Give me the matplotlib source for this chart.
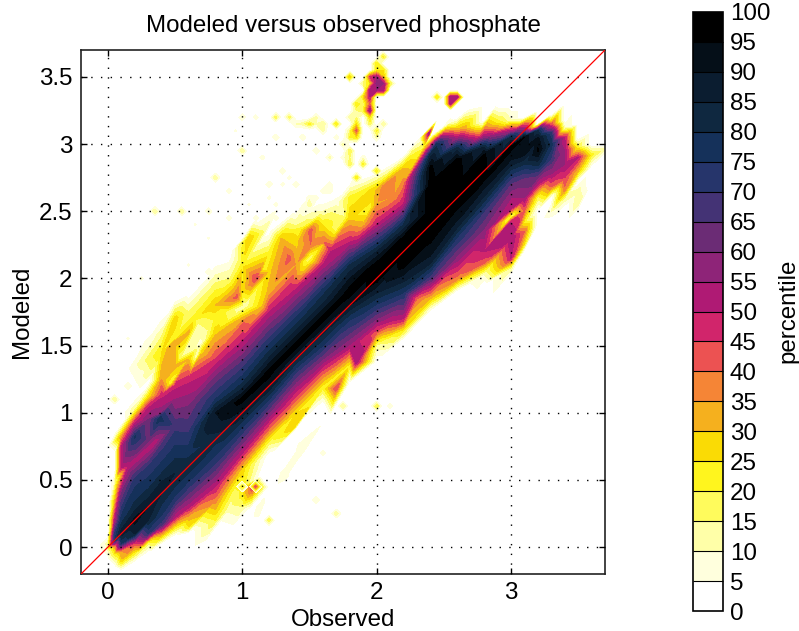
import numpy as np
import matplotlib
matplotlib.use('Agg')
import matplotlib.pyplot as plt
import matplotlib.tri as mtri
from matplotlib.colors import ListedColormap, BoundaryNorm
from matplotlib.cm import ScalarMappable

plt.rcParams['font.family'] = ['Liberation Sans', 'DejaVu Sans']

levels = list(range(0, 105, 5))
colors = ['#FFFFFF', '#FFFFDD', '#FFFFA8', '#FFFB5C', '#FFF51E', '#FADB05', '#F5B01E',
          '#F58536', '#EC5252', '#D1256B', '#AF1A74', '#8E2478', '#6B2C75', '#443375',
          '#26356B', '#15315A', '#0F2840', '#0B1D30', '#050F18', '#000000']

# Columns of the field: Observed value -> Modeled values and percentile
obs_m01 = -0.1; mod_m01 = [-0.4, 0.0, 0.5, 1.0, 2.0]; pct_m01 = [0, 0, 0, 0, 0]
obs_000 = 0.0;  mod_000 = [-0.4, -0.1, -0.02, 0.03, 0.1, 0.2, 0.3, 0.45, 0.6, 0.75, 0.9, 1.05, 1.3, 2.0]; pct_000 = [0, 0, 10, 12, 0, 0, 0, 0, 0, 0, 0, 0, 0, 0]
obs_005 = 0.05; mod_005 = [-0.4, -0.15, -0.05, 0.0, 0.05, 0.1, 0.2, 0.35, 0.48, 0.58, 0.7, 0.85, 1.0, 1.2, 2.0]; pct_005 = [0, 0, 22, 30, 75, 70, 50, 28, 10, 0, 0, 0, 0, 0, 0]
obs_010 = 0.1;  mod_010 = [-0.4, -0.18, -0.1, -0.03, 0.03, 0.1, 0.2, 0.4, 0.6, 0.75, 0.82, 0.92, 1.0, 1.3, 2.0]; pct_010 = [0, 0, 28, 35, 75, 88, 78, 60, 52, 50, 35, 0, 0, 0, 0]
obs_020 = 0.2;  mod_020 = [-0.4, -0.12, -0.05, 0.03, 0.1, 0.2, 0.3, 0.5, 0.7, 0.82, 0.93, 1.02, 1.12, 1.5, 2.2]; pct_020 = [0, 0, 20, 45, 85, 92, 82, 72, 62, 76, 48, 15, 0, 0, 0]
obs_030 = 0.3;  mod_030 = [-0.3, -0.05, 0.03, 0.1, 0.2, 0.3, 0.4, 0.6, 0.8, 0.95, 1.05, 1.12, 1.22, 1.6, 2.3]; pct_030 = [0, 0, 18, 70, 85, 90, 82, 70, 62, 60, 48, 25, 0, 0, 0]
obs_040 = 0.4;  mod_040 = [-0.2, 0.02, 0.1, 0.17, 0.25, 0.35, 0.45, 0.55, 0.75, 1.0, 1.13, 1.25, 1.45, 1.6, 1.75, 2.4]; pct_040 = [0, 0, 35, 68, 76, 82, 88, 80, 68, 58, 48, 35, 25, 12, 0, 0]
obs_050 = 0.5;  mod_050 = [-0.1, 0.08, 0.15, 0.22, 0.35, 0.45, 0.55, 0.7, 0.9, 1.1, 1.2, 1.35, 1.55, 1.7, 1.85, 2.5]; pct_050 = [0, 0, 25, 50, 72, 80, 85, 78, 68, 55, 48, 32, 22, 28, 0, 0]
obs_060 = 0.6;  mod_060 = [-0.05, 0.1, 0.15, 0.22, 0.3, 0.4, 0.5, 0.6, 0.7, 0.85, 1.05, 1.25, 1.4, 1.6, 1.75, 1.9, 2.6]; pct_060 = [0, 0, 25, 32, 52, 65, 76, 84, 78, 70, 60, 48, 30, 32, 15, 0, 0]
obs_080 = 0.8;  mod_080 = [0.0, 0.13, 0.2, 0.28, 0.35, 0.45, 0.6, 0.7, 0.8, 0.9, 1.0, 1.1, 1.25, 1.4, 1.6, 1.8, 2.0, 2.15, 2.8]; pct_080 = [0, 0, 20, 30, 38, 50, 68, 76, 82, 88, 90, 75, 62, 45, 28, 30, 12, 0, 0]
obs_100 = 1.0;  mod_100 = [0.1, 0.22, 0.3, 0.38, 0.45, 0.58, 0.7, 0.8, 0.9, 1.0, 1.1, 1.2, 1.35, 1.55, 1.7, 1.9, 2.1, 2.3, 3.0]; pct_100 = [0, 0, 15, 22, 22, 28, 50, 64, 76, 88, 97, 82, 68, 48, 32, 25, 22, 0, 0]
obs_120 = 1.2;  mod_120 = [0.4, 0.68, 0.78, 0.88, 1.0, 1.1, 1.2, 1.3, 1.4, 1.5, 1.75, 1.9, 2.05, 2.2, 2.36, 3.2]; pct_120 = [0, 0, 18, 40, 60, 75, 90, 98, 86, 76, 50, 32, 28, 20, 0, 0]
obs_140 = 1.4;  mod_140 = [0.6, 0.88, 1.0, 1.1, 1.2, 1.3, 1.4, 1.5, 1.6, 1.7, 1.92, 2.1, 2.25, 2.4, 2.52, 3.3]; pct_140 = [0, 0, 25, 42, 56, 70, 85, 98, 86, 76, 50, 34, 28, 14, 0, 0]
obs_160 = 1.6;  mod_160 = [0.8, 1.06, 1.18, 1.3, 1.4, 1.5, 1.6, 1.7, 1.8, 1.9, 2.1, 2.25, 2.4, 2.5, 2.6, 3.4]; pct_160 = [0, 0, 20, 42, 60, 75, 86, 98, 86, 78, 50, 28, 24, 10, 0, 0]
obs_180 = 1.8;  mod_180 = [1.0, 1.22, 1.35, 1.5, 1.6, 1.7, 1.8, 1.9, 2.0, 2.1, 2.27, 2.45, 2.6, 2.72, 3.5]; pct_180 = [0, 0, 22, 54, 66, 76, 90, 98, 90, 80, 50, 28, 22, 0, 0]
obs_200 = 2.0;  mod_200 = [1.2, 1.38, 1.5, 1.6, 1.7, 1.8, 1.9, 2.0, 2.1, 2.2, 2.4, 2.55, 2.68, 2.8, 3.6]; pct_200 = [0, 0, 14, 42, 60, 74, 86, 98, 98, 85, 50, 34, 26, 0, 0]
obs_220 = 2.2;  mod_220 = [1.4, 1.54, 1.62, 1.7, 1.8, 1.9, 2.0, 2.1, 2.2, 2.3, 2.4, 2.55, 2.7, 2.82, 2.92, 3.7]; pct_220 = [0, 0, 25, 50, 64, 76, 88, 97, 98, 97, 80, 50, 38, 30, 0, 0]
obs_240 = 2.4;  mod_240 = [1.55, 1.75, 1.85, 2.0, 2.13, 2.3, 2.5, 2.7, 2.83, 2.92, 2.98, 3.06, 3.7]; pct_240 = [0, 0, 30, 66, 88, 97, 98, 98, 96, 82, 50, 0, 0]
obs_260 = 2.6;  mod_260 = [1.7, 1.9, 2.0, 2.15, 2.3, 2.4, 2.55, 2.7, 2.88, 2.97, 3.05, 3.12, 3.2, 3.8]; pct_260 = [0, 0, 38, 58, 74, 88, 97, 98, 97, 82, 52, 28, 0, 0]
obs_280 = 2.8;  mod_280 = [1.8, 1.95, 2.03, 2.12, 2.2, 2.35, 2.5, 2.6, 2.75, 2.92, 2.98, 3.04, 3.1, 3.18, 3.3, 3.8]; pct_280 = [0, 0, 10, 42, 50, 58, 70, 84, 97, 96, 84, 60, 42, 0, 0, 0]
obs_300 = 3.0;  mod_300 = [1.9, 2.02, 2.08, 2.15, 2.3, 2.42, 2.46, 2.52, 2.6, 2.72, 2.82, 2.9, 2.98, 3.05, 3.1, 3.18, 3.3, 3.8]; pct_300 = [0, 0, 15, 50, 55, 50, 15, 50, 55, 66, 82, 92, 97, 80, 52, 10, 0, 0]
obs_310 = 3.1;  mod_310 = [2.0, 2.2, 2.26, 2.35, 2.42, 2.5, 2.6, 2.75, 2.85, 2.95, 3.05, 3.1, 3.15, 3.2, 3.4, 3.8]; pct_310 = [0, 0, 25, 40, 22, 40, 55, 65, 80, 95, 95, 60, 40, 0, 0, 0]
obs_320 = 3.2;  mod_320 = [2.2, 2.4, 2.5, 2.6, 2.7, 2.78, 2.85, 2.95, 3.04, 3.1, 3.15, 3.25, 3.5, 3.8]; pct_320 = [0, 0, 0, 18, 50, 66, 82, 96, 92, 80, 0, 0, 0, 0]
obs_330 = 3.3;  mod_330 = [2.3, 2.42, 2.5, 2.6, 2.68, 2.78, 2.88, 3.0, 3.08, 3.14, 3.22, 3.5, 3.8]; pct_330 = [0, 0, 10, 0, 40, 55, 68, 78, 72, 45, 0, 0, 0]
obs_340 = 3.4;  mod_340 = [2.4, 2.52, 2.6, 2.66, 2.75, 2.85, 2.95, 3.05, 3.12, 3.18, 3.3, 3.5, 3.8]; pct_340 = [0, 0, 15, 38, 45, 55, 55, 50, 10, 0, 0, 0, 0]
obs_350 = 3.5;  mod_350 = [2.4, 2.5, 2.56, 2.65, 2.72, 2.8, 2.9, 2.98, 3.05, 3.15, 3.3, 3.5, 3.8]; pct_350 = [0, 0, 15, 12, 0, 30, 50, 20, 0, 0, 0, 0, 0]
obs_360 = 3.6;  mod_360 = [2.5, 2.7, 2.82, 2.92, 3.0, 3.1, 3.25, 3.5, 3.8]; pct_360 = [0, 0, 0, 22, 0, 0, 0, 0, 0]
obs_380 = 3.8;  mod_380 = [2.6, 3.0, 3.4, 3.8]; pct_380 = [0, 0, 0, 0]

obs_cols = [obs_m01, obs_000, obs_005, obs_010, obs_020, obs_030, obs_040, obs_050, obs_060,
            obs_080, obs_100, obs_120, obs_140, obs_160, obs_180, obs_200, obs_220, obs_240,
            obs_260, obs_280, obs_300, obs_310, obs_320, obs_330, obs_340, obs_350, obs_360, obs_380]
mod_cols = [mod_m01, mod_000, mod_005, mod_010, mod_020, mod_030, mod_040, mod_050, mod_060,
            mod_080, mod_100, mod_120, mod_140, mod_160, mod_180, mod_200, mod_220, mod_240,
            mod_260, mod_280, mod_300, mod_310, mod_320, mod_330, mod_340, mod_350, mod_360, mod_380]
pct_cols = [pct_m01, pct_000, pct_005, pct_010, pct_020, pct_030, pct_040, pct_050, pct_060,
            pct_080, pct_100, pct_120, pct_140, pct_160, pct_180, pct_200, pct_220, pct_240,
            pct_260, pct_280, pct_300, pct_310, pct_320, pct_330, pct_340, pct_350, pct_360, pct_380]

# Mottled fringe of the band: extra readings between the columns
fringe_obs = [1.50, 1.35, 1.51, 1.61, 1.51, 1.66, 1.16, 1.10, 1.36, 1.01, 0.96, 0.79, 0.67, 0.70, 1.01, 1.15, 0.91,
              1.05, 1.16, 1.29, 1.43, 1.70, 1.76, 1.94, 1.71, 1.81, 2.08, 1.99, 2.13, 1.90,
              0.64, 0.87, 0.54, 0.655, 0.69, 0.49, 0.47, 0.38, 0.35, 0.15, 1.08, 0.94, 1.14, 1.26, 1.43, 1.39, 1.58,
              0.90, 1.14, 1.31, 1.7, 1.85, 2.1, 2.3,
              2.45, 2.39, 2.55, 2.65, 2.77, 2.85, 2.92, 2.35, 2.32]
fringe_mod = [2.15, 2.15, 2.36, 2.27, 2.25, 2.20, 2.07, 2.00, 1.96, 1.79, 1.86, 1.69, 1.67, 1.45, 1.67, 1.79, 2.00,
              2.30, 2.35, 2.30, 2.36, 2.36, 2.46, 2.51, 2.56, 2.70, 2.70, 2.65, 2.61, 2.40,
              1.70, 1.75, 1.41, 1.41, 1.51, 1.52, 1.22, 0.95, 0.78, 0.60, 0.44, 0.44, 0.53, 0.63, 0.70, 0.90, 0.90,
              0.29, 0.31, 0.52, 1.18, 1.38, 1.68, 1.85,
              3.00, 3.08, 3.16, 3.11, 3.07, 3.06, 3.17, 2.98, 3.04]
fringe_pct = [15, 42, 42, 40, 40, 50, 20, 45, 45, 10, 42, 20, 15, 28, 40, 30, 15,
              30, 15, 30, 22, 18, 15, 20, 8, 6, 40, 30, 35, 32,
              22, 20, 15, 10, 8, 35, 20, 78, 50, 50, 45, 20, 0, 0, 8, 30, 5,
              12, 8, 8, 45, 55, 50, 40,
              78, 55, 8, 35, 40, 55, 20, 18, 5]

# Places just outside the band and further out, where the field is white
zero_obs = [0.7, 0.9, 1.1, 1.3, 1.5, 1.7, 1.9, 2.1, 2.3,
            0.7, 0.9, 1.1, 1.3, 1.5, 1.7, 1.9, 2.1, 2.3, 2.5, 2.45, 2.55, 2.7, 2.9, 3.1,
            0.7, 0.9, 1.2, 1.3, 1.4, 1.55, 1.35, 1.5, 1.7, 1.65, 1.8, 1.9, 2.1, 2.3, 2.5, 2.7,
            0.9, 1.1, 1.3, 1.5, 1.7, 1.9, 2.1, 2.3, 2.5, 2.7, 2.9, 1.05, 1.2]
zero_mod = [2.0, 2.18, 2.45, 2.58, 2.66, 2.78, 2.92, 3.0, 3.12,
            2.4, 2.6, 2.8, 3.0, 3.1, 3.2, 3.3, 3.4, 3.5, 3.6, 3.18, 3.24, 3.28, 3.3, 3.3,
            0.0, 0.1, 0.45, 0.45, 0.55, 0.6, 0.72, 0.72, 0.85, 0.97, 1.02, 1.12, 1.28, 1.42, 1.62, 1.82,
            -0.1, 0.1, 0.2, 0.4, 0.6, 0.8, 1.0, 1.2, 1.4, 1.6, 1.8, 0.27, 0.35]

# Isolated specks and blobs away from the main band
speck_obs = [0.37, 0.57, 0.75, 0.90, 0.67, 1.24, 0.44, 0.60, 0.73, 0.245, 1.0, 1.0, 1.1, 0.94, 1.09,
             1.15, 1.30, 1.19, 1.40, 1.48, 1.56, 1.66, 1.79, 1.87, 1.99, 1.82, 1.25, 1.43, 1.34, 1.26,
             1.50, 1.68, 1.86, 2.0, 1.93, 2.0, 2.05, 1.79, 2.46, 2.54, 2.58, 2.54, 2.01, 1.77, 0.05,
             0.16, 0.26, 0.16, 0.34, 1.08, 0.99, 1.19, 1.55, 1.71, 1.61, 0.80, 0.90, 0.67,
             1.95, 2.05, 1.95, 2.0, 2.0, 1.9, 1.93, 1.85, 1.9, 1.85, 1.8, 2.05, 2.0, 1.55, 1.45,
             1.6, 1.85, 1.8, 1.82, 1.88, 1.93, 2.02, 1.95, 2.03, 2.0,
             1.40, 1.45, 1.60, 1.55, 1.75, 1.70, 1.65, 1.50, 1.55, 1.60, 1.65, 1.30, 1.35, 1.20, 1.25,
             2.05, 1.95, 2.05, 2.10, 1.90, 1.90, 1.95, 1.85, 1.85, 1.80, 2.05, 1.75, 1.80, 1.90, 2.10, 1.10, 1.05, 0.75]
speck_mod = [2.5, 2.5, 2.5, 2.45, 2.40, 2.46, 2.2, 2.10, 2.05, 2.0, 2.96, 3.2, 3.2, 3.11, 3.07,
             2.91, 2.80, 2.70, 2.69, 2.56, 2.93, 2.88, 2.71, 2.76, 2.79, 2.93, 3.06, 3.06, 3.18, 3.18,
             3.16, 3.14, 3.11, 3.12, 3.26, 3.46, 3.63, 3.50, 3.36, 3.36, 3.36, 3.30, 1.04, 1.06, 1.10,
             1.2, 1.29, 1.55, 1.8, 0.44, 0.44, 0.21, 0.36, 0.24, 0.68, 2.75, 2.67, 2.62,
             3.45, 3.45, 3.5, 3.5, 3.4, 3.35, 3.35, 3.3, 3.3, 3.15, 3.1, 3.55, 3.55, 3.2, 3.15,
             3.1, 3.05, 3.05, 2.85, 2.85, 3.2, 3.6, 3.15, 3.15, 3.05,
             3.15, 3.15, 3.15, 3.15, 3.00, 3.05, 2.70, 2.60, 2.60, 2.65, 2.65, 2.70, 2.75, 2.60, 2.55,
             3.40, 3.40, 3.50, 3.45, 3.45, 3.25, 3.30, 3.20, 3.25, 3.20, 3.65, 2.90, 2.90, 2.90, 1.05, 2.45, 2.55, 2.3]
speck_pct = [15, 15, 10, 8, 6, 8, 5, 6, 10, 7, 15, 10, 8, 6, 5,
             8, 10, 10, 10, 15, 10, 12, 5, 25, 25, 20, 10, 10, 18, 18,
             22, 25, 42, 22, 55, 58, 22, 30, 25, 55, 55, 55, 20, 15, 15,
             10, 8, 6, 5, 45, 25, 20, 10, 15, 8, 15, 8, 5,
             25, 55, 45, 55, 55, 25, 50, 25, 15, 25, 15, 25, 22, 12, 10,
             12, 25, 20, 20, 22, 25, 25, 18, 15, 12,
             10, 12, 15, 10, 12, 8, 8, 8, 8, 8, 8, 7, 7, 7, 7,
             55, 55, 30, 20, 15, 20, 40, 15, 15, 12, 15, 8, 15, 8, 8, 8, 6, 6]

x_ticks = [0, 1, 2, 3]
y_ticks = [0, 0.5, 1, 1.5, 2, 2.5, 3, 3.5]
y_labels = ['0', '0.5', '1', '1.5', '2', '2.5', '3', '3.5']
lim = [-0.2, 3.7]

W, H = 799, 631
fig = plt.figure(figsize=(W / 100, H / 100), dpi=100)
ax = fig.add_axes([81 / W, 1 - 574 / H, 524 / W, 524 / H])

cmap = ListedColormap(colors)
norm = BoundaryNorm(levels, cmap.N)

x = np.concatenate([np.full(len(m), o, dtype=float) for o, m in zip(obs_cols, mod_cols)]
                   + [np.array(fringe_obs), np.array(zero_obs)])
y = np.concatenate([np.asarray(m, dtype=float) for m in mod_cols]
                   + [np.array(fringe_mod), np.array(zero_mod)])
z = np.concatenate([np.asarray(p, dtype=float) for p in pct_cols]
                   + [np.array(fringe_pct, dtype=float), np.zeros(len(zero_obs))])
# triangles built along the diagonal band so the ridge stays connected
tri_sheared = mtri.Triangulation(x, y - x)
tri = mtri.Triangulation(x, y, tri_sheared.triangles)
ax.tricontourf(tri, z, levels=levels, cmap=cmap, norm=norm)

# specks on a 0.05 bin grid
gx = np.arange(-0.2, 3.7001, 0.05)
gy = np.arange(-0.2, 3.7001, 0.05)
gz = np.zeros((gy.size, gx.size))
for ox, my, p in zip(speck_obs, speck_mod, speck_pct):
    i = int(round((my - gy[0]) / 0.05))
    j = int(round((ox - gx[0]) / 0.05))
    gz[i, j] = max(gz[i, j], p)
ax.contourf(gx, gy, gz, levels=levels[1:], cmap=cmap, norm=norm)

ax.plot(lim, lim, color='#FF0000', lw=0.9, zorder=4)
ax.set_xlim(lim)
ax.set_ylim(lim)
ax.set_xticks(x_ticks)
ax.set_yticks(y_ticks)
ax.set_yticklabels(y_labels)
ax.tick_params(direction='in', top=True, right=True, labelsize=17.4, length=4, width=1, pad=6, zorder=6)
ax.grid(True, color='black', linestyle=(0, (1, 6)), linewidth=1, zorder=5)
ax.set_axisbelow(False)
for s in ax.spines.values():
    s.set_linewidth(1.2)
    s.set_color('#222222')
ax.set_title('Modeled versus observed phosphate', fontsize=17.4, pad=13)
ax.set_xlabel('Observed', fontsize=17.4, labelpad=3)
ax.set_ylabel('Modeled', fontsize=17.4, labelpad=4)

cax = fig.add_axes([693 / W, 1 - 611 / H, 30 / W, 599 / H])
cb = fig.colorbar(ScalarMappable(norm=norm, cmap=cmap), cax=cax, ticks=levels,
                  spacing='proportional', drawedges=True)
cb.dividers.set_color('black')
cb.dividers.set_linewidth(0.8)
cb.outline.set_linewidth(1.2)
cb.ax.tick_params(length=0, labelsize=17.4, pad=5)
fig.text(788 / W, 1 - 311 / H, 'percentile', fontsize=17.4, rotation=90, ha='center', va='center')

fig.savefig('out.png', dpi=100)
